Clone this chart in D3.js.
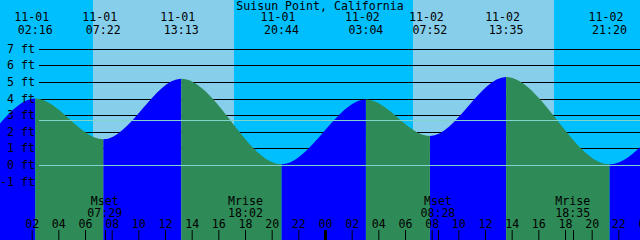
<!DOCTYPE html>
<html>
<head>
<meta charset="utf-8">
<script src="https://cdn.jsdelivr.net/npm/d3@7"></script>
<style>
  body { margin: 0; background: #fff; }
  svg { display: block; }
  text { font-family: "DejaVu Sans Mono", monospace; font-size: 11.6px; fill: #000; }
</style>
</head>
<body>
<div id="chart"></div>
<script>
// Tide chart, Suisun Point. Hours are counted from 11-01 00:00.

let title = "Suisun Point, California";

// high / low tides (the first two and last two entries lie off the edges of the chart)
let tideHours   = [-11.0, -4.0, 2.267, 7.367, 13.217, 20.733, 27.067, 31.867, 37.583, 45.333, 52.0, 56.5];
let tideHeights = [5.0, 0.1, 4.0, 1.55, 5.2, 0.05, 3.95, 1.75, 5.3, 0.05, 3.8, 1.7];
let tideDates   = ["10-31", "10-31", "11-01", "11-01", "11-01", "11-01", "11-02", "11-02", "11-02", "11-02", "11-03", "11-03"];
let tideTimes   = ["13:00", "20:00", "02:16", "07:22", "13:13", "20:44", "03:04", "07:52", "13:35", "21:20", "04:00", "08:30"];

// daylight
let sunriseHours = [6.6, 30.6];
let sunsetHours  = [17.17, 41.17];

// moon rise / set
let moonLabels = ["Mset", "Mrise", "Mset", "Mrise"];
let moonTimes  = ["07:29", "18:02", "08:28", "18:35"];
let moonHours  = [7.483, 18.033, 32.467, 42.583];

let heightTicks = [-1, 0, 1, 2, 3, 4, 5, 6, 7];
let hourTicks = d3.range(2, 49, 2);
let datumLines = [0, 2.69];

let width = 640, height = 240;

let x = d3.scaleLinear().domain([-0.375, 47.625]).range([0, width]);
let y = d3.scaleLinear().domain([0, 7]).range([165, 48.8]);

let svg = d3.select("#chart").append("svg")
            .attr("width", width)
            .attr("height", height);

// night / day background
svg.append("rect")
   .attr("width", width).attr("height", height)
   .attr("fill", "#00bfff");

svg.selectAll("rect.day")
   .data(sunriseHours)
   .enter().append("rect")
   .attr("class", "day")
   .attr("x", function(d) { return x(d); })
   .attr("y", 0)
   .attr("width", function(d, i) { return x(sunsetHours[i]) - x(d); })
   .attr("height", height)
   .attr("fill", "#87ceeb");

// foot grid lines (behind the water)
svg.selectAll("line.grid")
   .data(heightTicks.filter(function(d) { return d > 0; }))
   .enter().append("line")
   .attr("class", "grid")
   .attr("x1", 39).attr("x2", width)
   .attr("y1", function(d) { return Math.round(y(d)) + 0.5; })
   .attr("y2", function(d) { return Math.round(y(d)) + 0.5; })
   .attr("stroke", "#000")
   .attr("stroke-width", 1);

// water
let tide = tideHours.map(function(h, i) { return {hour: h, ft: tideHeights[i]}; });

let area = d3.area()
             .curve(d3.curveMonotoneX)
             .x(function(d) { return x(d.hour); })
             .y0(height)
             .y1(function(d) { return y(d.ft); });

let defs = svg.append("defs");
let clipFall = defs.append("clipPath").attr("id", "fall");
let clipRise = defs.append("clipPath").attr("id", "rise");

for (let i = 0; i < tide.length - 1; i++) {
  let falling = tide[i + 1].ft < tide[i].ft;
  (falling ? clipFall : clipRise).append("rect")
     .attr("x", x(tide[i].hour))
     .attr("y", 0)
     .attr("width", x(tide[i + 1].hour) - x(tide[i].hour))
     .attr("height", height);
}

svg.append("path")
   .datum(tide)
   .attr("clip-path", "url(#rise)")
   .attr("fill", "#0000ff")
   .attr("d", area);

svg.append("path")
   .datum(tide)
   .attr("clip-path", "url(#fall)")
   .attr("fill", "#2e8b57")
   .attr("d", area);

// datum lines drawn over the water
svg.selectAll("line.datum")
   .data(datumLines)
   .enter().append("line")
   .attr("class", "datum")
   .attr("x1", 39).attr("x2", width)
   .attr("y1", function(d) { return Math.round(y(d)) + 0.5; })
   .attr("y2", function(d) { return Math.round(y(d)) + 0.5; })
   .attr("stroke", "#80d4d0")
   .attr("stroke-width", 1);

// height labels
svg.selectAll("text.ft")
   .data(heightTicks)
   .enter().append("text")
   .attr("class", "ft")
   .attr("x", 35)
   .attr("y", function(d) { return y(d); })
   .attr("dy", "0.35em")
   .attr("text-anchor", "end")
   .text(function(d) { return d + " ft"; });

// title
svg.append("text")
   .attr("x", 320).attr("y", 6)
   .attr("dy", "0.35em")
   .attr("text-anchor", "middle")
   .text(title);

// hi / lo labels at the top
let shown = tide.map(function(d, i) { return i; })
                .filter(function(i) { return x(tideHours[i]) > 0 && x(tideHours[i]) < width; });

svg.selectAll("text.date")
   .data(shown)
   .enter().append("text")
   .attr("class", "date")
   .attr("x", function(i) { return x(tideHours[i]) - 3.5; })
   .attr("y", 16.7)
   .attr("dy", "0.35em")
   .attr("text-anchor", "middle")
   .text(function(i) { return tideDates[i]; });

svg.selectAll("text.time")
   .data(shown)
   .enter().append("text")
   .attr("class", "time")
   .attr("x", function(i) { return x(tideHours[i]); })
   .attr("y", 30)
   .attr("dy", "0.35em")
   .attr("text-anchor", "middle")
   .text(function(i) { return tideTimes[i]; });

// moon labels
svg.selectAll("text.moon")
   .data(moonHours)
   .enter().append("text")
   .attr("class", "moon")
   .attr("x", function(d) { return x(d); })
   .attr("y", 201)
   .attr("dy", "0.35em")
   .attr("text-anchor", "middle")
   .text(function(d, i) { return moonLabels[i]; });

svg.selectAll("text.moontime")
   .data(moonHours)
   .enter().append("text")
   .attr("class", "moontime")
   .attr("x", function(d) { return x(d); })
   .attr("y", 213)
   .attr("dy", "0.35em")
   .attr("text-anchor", "middle")
   .text(function(d, i) { return moonTimes[i]; });

// hour axis along the bottom
let axis = svg.append("g")
              .attr("class", "x axis")
              .attr("transform", "translate(0," + height + ")")
              .call(d3.axisTop(x)
                      .tickValues(hourTicks)
                      .tickSize(10)
                      .tickPadding(2)
                      .tickFormat(function(d) { return d3.format("02")(d % 24); }));

axis.select(".domain").remove();
axis.selectAll("text")
    .attr("font-family", null)
    .attr("font-size", null)
    .attr("fill", "#000");
axis.selectAll("line")
    .attr("stroke", "#000")
    .attr("stroke-width", function(d) { return d % 24 === 0 ? 3 : 1; });

svg.selectAll("line.moontick")
   .data(moonHours)
   .enter().append("line")
   .attr("class", "moontick")
   .attr("x1", function(d) { return Math.round(x(d)) + 0.5; })
   .attr("x2", function(d) { return Math.round(x(d)) + 0.5; })
   .attr("y1", 230).attr("y2", height)
   .attr("stroke", "#000");
</script>
</body>
</html>
